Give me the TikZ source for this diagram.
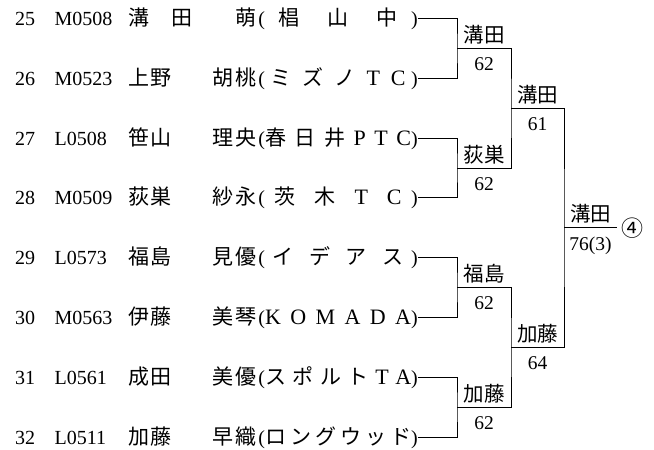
\documentclass[tikz,border=0pt]{standalone}
\usepackage{fontspec}
\setmainfont{Liberation Serif}
\newfontfamily\jp{Noto Sans CJK JP}
\usepackage{tikz}
\usetikzlibrary{positioning}
\tikzstyle{line} = [draw, line width=1pt]
\tikzstyle{player} = [inner sep=0pt, text height=17pt, text depth=3pt, font=\fontsize{20}{22}\selectfont]
\tikzstyle{winner} = [inner sep=1pt, font=\jp\fontsize{20.5}{22}\selectfont, above=3pt]
\tikzstyle{score} = [inner sep=1pt, font=\fontsize{19.5}{21}\selectfont, below=8pt]
\newcommand{\J}[1]{{\jp\fontsize{21}{22}\selectfont #1}}
\newcommand{\W}[1]{{\fontsize{22}{22}\selectfont #1}}
\newcommand{\gap}{\hspace{\stretch{1}}}
\newcommand{\edge}{\hspace{\stretch{0.5}}}

\begin{document}
\begin{tikzpicture}[x=1pt, y=-1pt]
    \useasboundingbox (0,0) rectangle (654,450);

    % Players
    \node [player, anchor=west] (n25) at (15,18.5) {25};
    \node [player, right=19pt of n25] (i25) {M0508};
    \node [player, anchor=west] (m25) at (128,18.5) {\makebox[128pt][s]{\J{溝}\hspace{22pt}\J{田}\hfill\J{萌}}};
    \node [player, anchor=east] (p25) at (418,18.5) {(\makebox[146pt][s]{\edge\J{椙}\gap\J{山}\gap\J{中}\edge})};

    \node [player, anchor=west] (n26) at (15,78.3) {26};
    \node [player, right=19pt of n26] (i26) {M0523};
    \node [player, anchor=west] (m26) at (128,78.3) {\makebox[128pt][s]{\J{上}\hspace{1.5pt}\J{野}\hfill\J{胡}\hspace{1.5pt}\J{桃}}};
    \node [player, anchor=east] (p26) at (418,78.3) {(\makebox[146pt][s]{\edge\J{ミ}\gap\J{ズ}\gap\J{ノ}\gap\W{T}\gap\W{C}\edge})};

    \node [player, anchor=west] (n27) at (15,138.1) {27};
    \node [player, right=19pt of n27] (i27) {L0508};
    \node [player, anchor=west] (m27) at (128,138.1) {\makebox[128pt][s]{\J{笹}\hspace{1.5pt}\J{山}\hfill\J{理}\hspace{1.5pt}\J{央}}};
    \node [player, anchor=east] (p27) at (418,138.1) {(\makebox[146pt][s]{\J{春}\gap\J{日}\gap\J{井}\gap\W{P}\gap\W{T}\gap\W{C}})};

    \node [player, anchor=west] (n28) at (15,197.9) {28};
    \node [player, right=19pt of n28] (i28) {M0509};
    \node [player, anchor=west] (m28) at (128,197.9) {\makebox[128pt][s]{\J{荻}\hspace{1.5pt}\J{巣}\hfill\J{紗}\hspace{1.5pt}\J{永}}};
    \node [player, anchor=east] (p28) at (418,197.9) {(\makebox[146pt][s]{\edge\J{茨}\gap\J{木}\gap\W{T}\gap\W{C}\edge})};

    \node [player, anchor=west] (n29) at (15,257.7) {29};
    \node [player, right=19pt of n29] (i29) {L0573};
    \node [player, anchor=west] (m29) at (128,257.7) {\makebox[128pt][s]{\J{福}\hspace{1.5pt}\J{島}\hfill\J{見}\hspace{1.5pt}\J{優}}};
    \node [player, anchor=east] (p29) at (418,257.7) {(\makebox[146pt][s]{\edge\J{イ}\gap\J{デ}\gap\J{ア}\gap\J{ス}\edge})};

    \node [player, anchor=west] (n30) at (15,317.5) {30};
    \node [player, right=19pt of n30] (i30) {M0563};
    \node [player, anchor=west] (m30) at (128,317.5) {\makebox[128pt][s]{\J{伊}\hspace{1.5pt}\J{藤}\hfill\J{美}\hspace{1.5pt}\J{琴}}};
    \node [player, anchor=east] (p30) at (418,317.5) {(\makebox[146pt][s]{\W{K}\gap\W{O}\gap\W{M}\gap\W{A}\gap\W{D}\gap\W{A}})};

    \node [player, anchor=west] (n31) at (15,377.3) {31};
    \node [player, right=19pt of n31] (i31) {L0561};
    \node [player, anchor=west] (m31) at (128,377.3) {\makebox[128pt][s]{\J{成}\hspace{1.5pt}\J{田}\hfill\J{美}\hspace{1.5pt}\J{優}}};
    \node [player, anchor=east] (p31) at (418,377.3) {(\makebox[146pt][s]{\J{ス}\gap\J{ポ}\gap\J{ル}\gap\J{ト}\gap\W{T}\gap\W{A}})};

    \node [player, anchor=west] (n32) at (15,437.1) {32};
    \node [player, right=19pt of n32] (i32) {L0511};
    \node [player, anchor=west] (m32) at (128,437.1) {\makebox[128pt][s]{\J{加}\hspace{1.5pt}\J{藤}\hfill\J{早}\hspace{1.5pt}\J{織}}};
    \node [player, anchor=east] (p32) at (418,437.1) {(\makebox[146pt][s]{\J{ロ}\gap\J{ン}\gap\J{グ}\gap\J{ウ}\gap\J{ッ}\gap\J{ド}})};

    % Bracket lines
    \coordinate (a1) at (457,48.4);
    \coordinate (a2) at (457,168.0);
    \coordinate (a3) at (457,287.6);
    \coordinate (a4) at (457,407.2);
    \coordinate (b1) at (511,108.2);
    \coordinate (b2) at (511,347.4);
    \coordinate (c1) at (564,227.8);
    \coordinate (fin) at (617,227.8);

    \path [line] (p25.east) -| (a1) |- (p26.east);
    \path [line] (p27.east) -| (a2) |- (p28.east);
    \path [line] (p29.east) -| (a3) |- (p30.east);
    \path [line] (p31.east) -| (a4) |- (p32.east);
    \path [line] (a1) -| (b1) |- (a2);
    \path [line] (a3) -| (b2) |- (a4);
    \path [line] (b1) -| (c1) |- (b2);
    \path [line] (c1) -- (fin);

    % Winners and scores
    \node [winner] (w1) at (484,48.4) {溝田};
    \node [score] (s1) at (484,48.4) {62};
    \node [winner] (w2) at (484,168.0) {荻巣};
    \node [score] (s2) at (484,168.0) {62};
    \node [winner] (w3) at (484,287.6) {福島};
    \node [score] (s3) at (484,287.6) {62};
    \node [winner] (w4) at (484,407.2) {加藤};
    \node [score] (s4) at (484,407.2) {62};
    \node [winner] (w5) at (537.5,108.2) {溝田};
    \node [score] (s5) at (537.5,108.2) {61};
    \node [winner] (w6) at (537.5,347.4) {加藤};
    \node [score] (s6) at (537.5,347.4) {64};
    \node [winner] (w7) at (590.5,227.8) {溝田};
    \node [score] (s7) at (590.5,227.8) {76(3)};
    \node [right=4pt of fin, inner sep=0pt, font=\jp\fontsize{22}{24}\selectfont] (rank) {④};
\end{tikzpicture}
\end{document}
